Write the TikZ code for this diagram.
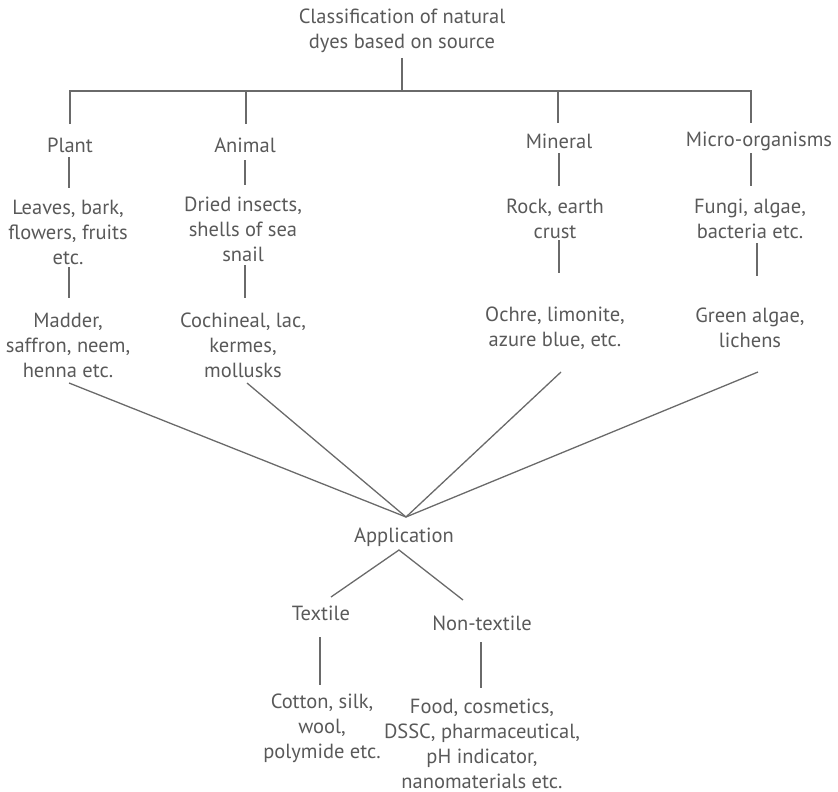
\documentclass[tikz,border=0pt]{standalone}
\usepackage{fontspec}
\setmainfont{PT Sans}
\definecolor{txt}{HTML}{595959}
\definecolor{ln}{HTML}{6A6A6A}
\begin{document}
\begin{tikzpicture}[x=1pt,y=1pt,
  lbl/.style={inner sep=0pt, align=center, text=txt, font=\fontsize{20.5}{25}\selectfont},
  conn/.style={draw=ln, line width=1.3pt}]
\useasboundingbox (0,0) rectangle (838,-792);
\node[lbl] (title) at (402,-31) {Classification of natural\\dyes based on source};
\node[lbl] (plant) at (70,-145) {Plant};
\node[lbl] (animal) at (245,-145) {Animal};
\node[lbl] (mineral) at (559,-141) {Mineral};
\node[lbl] (micro) at (759,-141) {Micro-organisms};
\node[lbl] (leaves) at (68,-232) {Leaves, bark,\\flowers, fruits\\etc.};
\node[lbl] (dried) at (243,-229) {Dried insects,\\shells of sea\\snail};
\node[lbl] (rock) at (555,-219) {Rock, earth\\crust};
\node[lbl] (fungi) at (750,-219) {Fungi, algae,\\bacteria etc.};
\node[lbl] (madder) at (68,-345) {Madder,\\saffron, neem,\\henna etc.};
\node[lbl] (coch) at (243,-345) {Cochineal, lac,\\kermes,\\mollusks};
\node[lbl] (ochre) at (555,-328) {Ochre, limonite,\\azure blue, etc.};
\node[lbl] (green) at (750,-328) {Green algae,\\lichens};
\node[lbl] (app) at (404,-537) {Application};
\node[lbl] (textile) at (321,-613) {Textile};
\node[lbl] (nontex) at (482,-623) {Non-textile};
\node[lbl] (cotton) at (322,-728) {Cotton, silk,\\wool,\\polymide etc.};
\node[lbl] (food) at (482,-744) {Food, cosmetics,\\DSSC, pharmaceutical,\\pH indicator,\\nanomaterials etc.};
\coordinate (bar) at (402,-91);
\coordinate (conv) at (406,-517);
% top tree
\draw[conn] ([yshift=-27pt]title.center) -- (bar);
\draw[conn] ([yshift=21pt]plant.center) |- (bar);
\draw[conn] (bar) -| ([shift={(-8pt,18pt)}]micro.center);
\draw[conn] ([shift={(1pt,21pt)}]animal.center) -- ++(0,33);
\draw[conn] ([shift={(-1pt,18pt)}]mineral.center) -- ++(0,32);
% level 1 -> 2
\draw[conn] ([shift={(-1pt,-12pt)}]plant.center) -- ([shift={(1pt,44pt)}]leaves.center);
\draw[conn] ([shift={(0pt,-15pt)}]animal.center) -- ([shift={(2pt,44pt)}]dried.center);
\draw[conn] ([shift={(0pt,-12pt)}]mineral.center) -- ([shift={(4pt,33pt)}]rock.center);
\draw[conn] ([shift={(-8pt,-12pt)}]micro.center) -- ([shift={(1pt,33pt)}]fungi.center);
% level 2 -> 3
\draw[conn] ([shift={(1pt,-35pt)}]leaves.center) -- ([shift={(1pt,47pt)}]madder.center);
\draw[conn] ([shift={(2pt,-36pt)}]dried.center) -- ([shift={(2pt,47pt)}]coch.center);
\draw[conn] ([shift={(4pt,-21pt)}]rock.center) -- ([shift={(4pt,55pt)}]ochre.center);
\draw[conn, line width=1.9pt] ([shift={(7pt,-24pt)}]fungi.center) -- ([shift={(7pt,52pt)}]green.center);
% converging lines
\draw[conn] ([shift={(1pt,-38pt)}]madder.center) -- (conv);
\draw[conn] ([shift={(4pt,-38pt)}]coch.center) -- (conv);
\draw[conn] ([shift={(6pt,-44pt)}]ochre.center) -- (conv);
\draw[conn] ([shift={(8pt,-44pt)}]green.center) -- (conv);
% application
\draw[conn] ([shift={(10pt,16pt)}]textile.center) -- ([shift={(-5pt,-13pt)}]app.center) -- ([shift={(-19pt,23pt)}]nontex.center);
\draw[conn] ([shift={(-1pt,-24pt)}]textile.center) -- ([shift={(-2pt,43pt)}]cotton.center);
\draw[conn] ([shift={(-1pt,-19pt)}]nontex.center) -- ([shift={(-1pt,56pt)}]food.center);
\end{tikzpicture}
\end{document}
